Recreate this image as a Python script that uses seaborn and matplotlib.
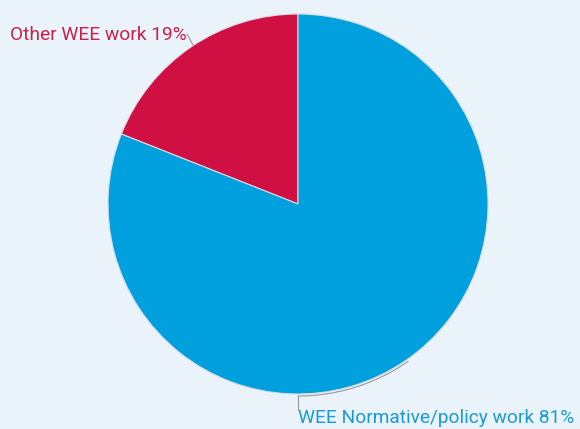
import numpy as np
import matplotlib
matplotlib.use("Agg")
import matplotlib.pyplot as plt
import seaborn as sns

labels = ["Other WEE work", "WEE Normative/policy work"]
shares = [19, 81]
colors = ["#D01042", "#009FDD"]

sns.set_theme(style="white")
plt.rcParams["font.family"] = ["Roboto", "DejaVu Sans"]

bg = "#EAF2FA"
fig = plt.figure(figsize=(5.8, 4.29), dpi=100, facecolor=bg)
ax = fig.add_axes([0, 0, 1, 1])
ax.set_facecolor(bg)

cx, cy, r = 298, 225, 190
ax.pie(shares, colors=colors, startangle=90, counterclock=True,
       center=(cx, cy), radius=r, frame=True,
       wedgeprops=dict(edgecolor="#d8dde4", linewidth=0.8))
ax.set_xlim(0, 580)
ax.set_ylim(0, 429)
ax.set_aspect("equal")
ax.axis("off")

# leader for the small slice
ax.plot([187, 193], [429 - 34, 429 - 45], color="#999999", lw=0.8)
ax.text(10, 429 - 35, f"{labels[0]} {shares[0]}%", color="#C8224A",
        fontsize=13.8, va="center", ha="left")

# leader for the large slice: arc hugging the rim, then a drop to the label
t = np.linspace(np.deg2rad(-55), np.deg2rad(-90), 60)
ax.plot(cx + 192 * np.cos(t), cy + 192 * np.sin(t), color="#999999", lw=0.8)
ax.plot([cx, cx], [cy - 192, 429 - 410], color="#999999", lw=0.8)
ax.text(298, 429 - 418, f"{labels[1]} {shares[1]}%", color="#1A9BD7",
        fontsize=13.8, va="center", ha="left")

fig.savefig("out.png", dpi=100, facecolor=bg)
